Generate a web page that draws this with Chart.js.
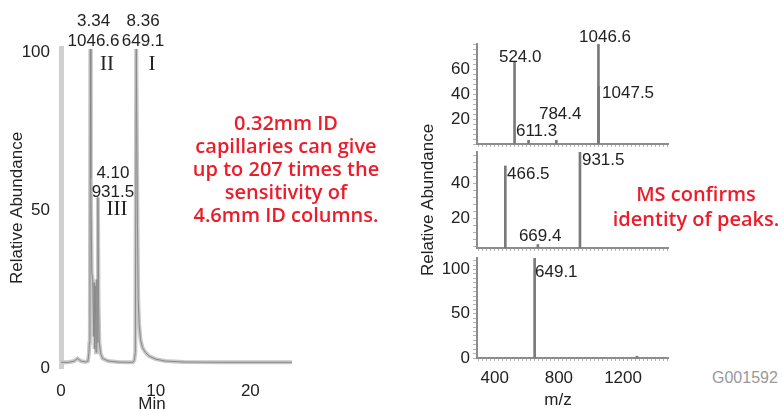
<!DOCTYPE html>
<html>
<head>
<meta charset="utf-8">
<script src="https://cdn.jsdelivr.net/npm/chart.js@4.4.1/dist/chart.umd.min.js"></script>
<style>
  html, body { margin: 0; padding: 0; background: #fff; }
  body { position: relative; width: 782px; height: 410px; overflow: hidden; }
  canvas { position: absolute; }
  .txt { position: absolute; white-space: nowrap; font-family: "Liberation Sans", Arial, sans-serif; font-size: 17px; color: #222; }
  .note { position: absolute; white-space: nowrap; text-align: center; color: #ec1c2a;
          font-family: "Open Sans", sans-serif; font-size: 20px; font-weight: 600; transform: translateX(-50%); }
</style>
</head>
<body>
<canvas id="lcChart" width="300" height="416" style="left:0;top:0"></canvas>
<canvas id="msII" width="280" height="158" style="left:400px;top:0"></canvas>
<canvas id="msIII" width="280" height="160" style="left:400px;top:120px"></canvas>
<canvas id="msI" width="280" height="172" style="left:400px;top:244px"></canvas>

<div class="txt" style="left:152px;top:404px;transform:translate(-50%,-50%)">Min</div>
<div class="txt" style="left:558px;top:400px;transform:translate(-50%,-50%)">m/z</div>
<div class="txt" style="left:712px;top:378px;transform:translateY(-50%);color:#999;font-size:16px">G001592</div>
<div class="note" style="left:286px;top:111px;line-height:23px">0.32mm ID<br>capillaries can give<br>up to 207 times the<br>sensitivity of<br>4.6mm ID columns.</div>
<div class="note" style="left:696px;top:181px;line-height:25px">MS confirms<br>identity of peaks.</div>

<script>
// chromatogram (time in min, relative abundance in %)
const lcTime = [0, 0.8, 1.4, 1.75, 2.1, 2.6, 2.85, 2.95, 3.0, 3.05,
                3.1, 3.15, 3.25, 3.35, 3.45, 3.5, 3.55, 3.62, 3.7, 3.78,
                3.85, 3.9, 3.97, 4.05, 4.2, 4.4, 5.0, 6.0, 7.0, 7.6,
                7.75, 7.85, 7.95, 8.0, 8.08, 8.15, 8.25, 8.4, 8.6, 8.9,
                9.3, 10.0, 11.0, 13.0, 17.0, 24.4];
const lcAbundance = [1.8, 1.8, 2.2, 3.0, 2.2, 1.9, 2.2, 5, 8, 9,
                     101, 60, 30, 28, 10, 27, 6, 26, 5, 28,
                     8, 54, 20, 8, 4.5, 3, 2.2, 1.9, 1.8, 1.8,
                     2.5, 5, 101, 101, 45, 22, 14, 9, 6.5, 5,
                     3.8, 2.8, 2.2, 1.9, 1.8, 1.8];
const lcTimeTicks = [0, 10, 20];
const lcAbundanceTicks = [0, 50, 100];

// peaks: name, retention time label, main m/z, apex time in the trace
const peakNames = ["I", "II", "III"];
const peakRt = [8.36, 3.34, 4.10];
const peakMz = [649.1, 1046.6, 931.5];
const peakApex = [8.0, 3.1, 3.9];

// mass spectra of each peak
const msMzII = [524.0, 611.3, 784.4, 1046.6, 1047.5];
const msAbundanceII = [66, 3, 3, 80, 46];
const msMzIII = [466.5, 669.4, 931.5];
const msAbundanceIII = [50, 5, 58];
const msMzI = [649.1, 1287];
const msAbundanceI = [113, 2];

const msMzTicks = [400, 800, 1200];
const msTicksII = [20, 40, 60];
const msTicksIII = [20, 40];
const msTicksI = [0, 50, 100];

Chart.defaults.font.family = '"Liberation Sans", Arial, sans-serif';
Chart.defaults.font.size = 17;
Chart.defaults.color = "#222";

const peakLabelPlugin = {
    id: "peakLabels",
    afterDatasetsDraw(chart, args, opts) {
        const { ctx } = chart;
        const xs = chart.scales.x, ys = chart.scales.y;
        ctx.save();
        ctx.textBaseline = "middle";
        ctx.fillStyle = "#222";
        opts.items.forEach(item => {
            ctx.font = item.font || '17px "Liberation Sans", Arial, sans-serif';
            ctx.textAlign = item.align || "center";
            ctx.fillText(item.text, xs.getPixelForValue(item.x) + item.dx, ys.getPixelForValue(item.y) + item.dy);
        });
        ctx.restore();
    }
};

function fixedTicks(values) {
    return axis => { axis.ticks = values.map(v => ({ value: v })); };
}

function minorTicks(from, to, step) {
    const list = [];
    for (let v = from; v <= to + 1e-9; v += step) list.push(v);
    return list;
}

// chromatogram
const lcLabels = [];
peakNames.forEach((name, i) => {
    const t = peakApex[i];
    const y = lcAbundance[lcTime.indexOf(t)];
    const serif = '21px "Liberation Serif", "Times New Roman", serif';
    if (name === "III") {
        lcLabels.push({ text: peakRt[i].toFixed(2), x: t, y, dx: 15, dy: -24.5 });
        lcLabels.push({ text: peakMz[i].toFixed(1), x: t, y, dx: 15, dy: -5.5 });
        lcLabels.push({ text: name, x: t, y, dx: 19, dy: 12.5, font: serif });
    } else {
        const dx = name === "I" ? 6.3 : 3.2;
        lcLabels.push({ text: peakRt[i].toFixed(2), x: t, y, dx, dy: -28 });
        lcLabels.push({ text: peakMz[i].toFixed(1), x: t, y, dx, dy: -8 });
        lcLabels.push({ text: name, x: t, y, dx: name === "I" ? 15.3 : 16.7, dy: 16, font: serif });
    }
});

const lcPoints = lcTime.map((t, i) => ({ x: t, y: lcAbundance[i] }));

new Chart(document.getElementById("lcChart"), {
    type: "line",
    data: {
        datasets: [
            // first dataset is painted on top
            { data: lcPoints, borderColor: "#8a8a8a", borderWidth: 1, pointRadius: 0, tension: 0 },
            { data: lcPoints, borderColor: "#c8c8c8", borderWidth: 4, pointRadius: 0, tension: 0 }
        ]
    },
    options: {
        responsive: false,
        animation: false,
        layout: { padding: { left: 3, top: 48, right: 8, bottom: 0 } },
        plugins: {
            legend: { display: false },
            tooltip: { enabled: false },
            peakLabels: { items: lcLabels }
        },
        scales: {
            x: {
                type: "linear", min: 0, max: 24.4,
                afterBuildTicks: fixedTicks(lcTimeTicks),
                afterFit: s => { s.height = 48; },
                grid: { display: false },
                border: { display: false },
                ticks: { padding: 5, maxRotation: 0, autoSkip: false }
            },
            y: {
                min: 0, max: 101.3,
                afterBuildTicks: fixedTicks(lcAbundanceTicks),
                afterFit: s => { s.width = 58; },
                grid: { display: false, drawTicks: false },
                border: { display: true, color: "#d0d0d0", width: 5 },
                ticks: { padding: 11, autoSkip: false },
                title: { display: true, text: "Relative Abundance", color: "#222" }
            }
        }
    },
    plugins: [peakLabelPlugin]
});

// mass spectra
function msPanel(id, mz, abundance, yMin, yMax, yStep, yMajor, labelOffsets, opts) {
    const items = labelOffsets.map((o, i) => ({
        text: mz[i].toFixed(1), x: mz[i], y: abundance[i], dx: o[0], dy: o[1], align: "left"
    }));
    return new Chart(document.getElementById(id), {
        type: "bar",
        data: {
            datasets: [{
                data: mz.map((m, i) => ({ x: m, y: abundance[i] })),
                backgroundColor: "#7a7a7a",
                borderWidth: 0,
                barThickness: 2
            }]
        },
        options: {
            responsive: false,
            animation: false,
            layout: { padding: opts.padding },
            plugins: {
                legend: { display: false },
                tooltip: { enabled: false },
                peakLabels: { items }
            },
            scales: {
                x: {
                    type: "linear", min: 290, max: 1480, offset: false,
                    afterBuildTicks: fixedTicks(minorTicks(300, 1475, 25)),
                    afterFit: s => { s.height = opts.xHeight; },
                    grid: { offset: false, drawOnChartArea: false, tickLength: 3, tickColor: "#b5b5b5" },
                    border: { color: "#8c8c8c", width: 2 },
                    ticks: {
                        padding: 7, maxRotation: 0, minRotation: 0, autoSkip: false,
                        callback: v => (opts.xLabels && msMzTicks.includes(v)) ? String(v) : ""
                    }
                },
                y: {
                    min: yMin, max: yMax,
                    afterBuildTicks: fixedTicks(minorTicks(yStep * Math.ceil(yMin / yStep), yMax, yStep)),
                    afterFit: s => { s.width = 77; },
                    grid: { drawOnChartArea: false, tickLength: 4, tickColor: "#b5b5b5" },
                    border: { color: "#8c8c8c", width: 2 },
                    ticks: {
                        padding: 3, autoSkip: false,
                        callback: v => yMajor.includes(v) ? String(v) : ""
                    },
                    title: {
                        display: !!opts.yTitle, text: "Relative Abundance", color: "#222",
                        padding: { top: 18, bottom: 4 }
                    }
                }
            }
        },
        plugins: [peakLabelPlugin]
    });
}

msPanel("msII", msMzII, msAbundanceII, 0, 80, 4, msTicksII,
    [[-15.6, -4.5], [-12.6, -9], [-17.4, -26], [-19.4, -7], [3.5, 6.5]],
    { padding: { left: 0, top: 44, right: 12, bottom: 8 }, xHeight: 6 });

msPanel("msIII", msMzIII, msAbundanceIII, 3, 58, 4, msTicksIII,
    [[1.7, 8], [-19, -8.5], [2, 8]],
    { padding: { left: 0, top: 32, right: 12, bottom: 26 }, xHeight: 6, yTitle: true });

msPanel("msI", msMzI, msAbundanceI, 0, 113, 5, msTicksI,
    [[0.4, 14]],
    { padding: { left: 0, top: 14, right: 12, bottom: 0 }, xHeight: 58, xLabels: true });
</script>
</body>
</html>
